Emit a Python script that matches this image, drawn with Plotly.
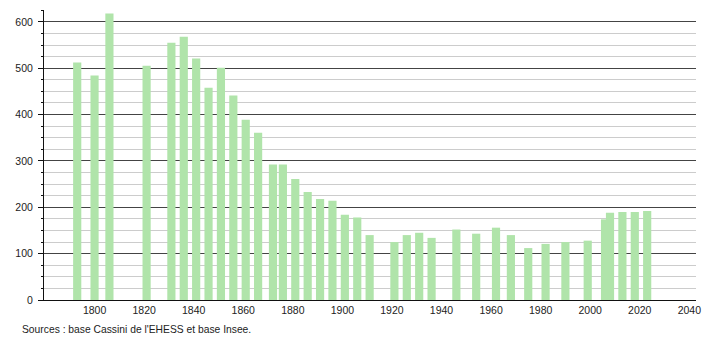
import plotly.graph_objects as go

years = [1793, 1800, 1806, 1821, 1831, 1836, 1841, 1846, 1851, 1856, 1861, 1866,
         1872, 1876, 1881, 1886, 1891, 1896, 1901, 1906, 1911, 1921, 1926, 1931,
         1936, 1946, 1954, 1962, 1968, 1975, 1982, 1990, 1999, 2006, 2008, 2013,
         2018, 2023]
population = [512, 484, 618, 505, 555, 568, 521, 458, 501, 441, 389, 361,
              292, 292, 261, 233, 218, 214, 184, 178, 140, 125, 140, 145,
              134, 152, 143, 156, 140, 112, 121, 125, 128, 174, 188, 190,
              190, 192]
x_ticks = [1800, 1820, 1840, 1860, 1880, 1900, 1920, 1940, 1960, 1980, 2000, 2020, 2040]
y_ticks = [0, 100, 200, 300, 400, 500, 600]
source_text = "Sources : base Cassini de l'EHESS et base Insee."

fig = go.Figure()
fig.add_trace(go.Bar(
    x=years, y=population, width=3.3,
    marker=dict(color="rgb(176,228,170)", line=dict(width=0)),
    hoverinfo="x+y",
))

fig.update_layout(
    width=710, height=340,
    margin=dict(l=44, r=9, t=10, b=40),
    paper_bgcolor="white", plot_bgcolor="white",
    showlegend=False,
    font=dict(family="Liberation Sans, Arial, sans-serif", size=10.5, color="#222"),
    xaxis=dict(
        range=[1779.6, 2042.7],
        tickmode="array", tickvals=x_ticks, ticktext=[str(t) for t in x_ticks],
        showgrid=False, zeroline=False,
        showline=True, linecolor="#111", linewidth=1,
        ticks="", tickfont=dict(size=10.5, color="#222"),
    ),
    yaxis=dict(
        range=[0, 625.5],
        tickmode="array", tickvals=y_ticks,
        showgrid=True, gridcolor="#444", gridwidth=1,
        zeroline=False,
        showline=True, linecolor="#111", linewidth=1,
        ticks="outside", ticklen=5, tickcolor="#111",
        ticklabelstandoff=3,
        tickfont=dict(size=10.5, color="#222"),
        minor=dict(dtick=25, showgrid=True, gridcolor="#cccccc", gridwidth=1,
                   ticks="outside", ticklen=2, tickcolor="#111"),
    ),
    annotations=[dict(
        text=source_text, xref="paper", yref="paper",
        x=-0.0365, y=-0.1, xanchor="left", yanchor="middle",
        showarrow=False, font=dict(size=10.3, color="#222"),
    )],
)

fig.write_html("out.html")
